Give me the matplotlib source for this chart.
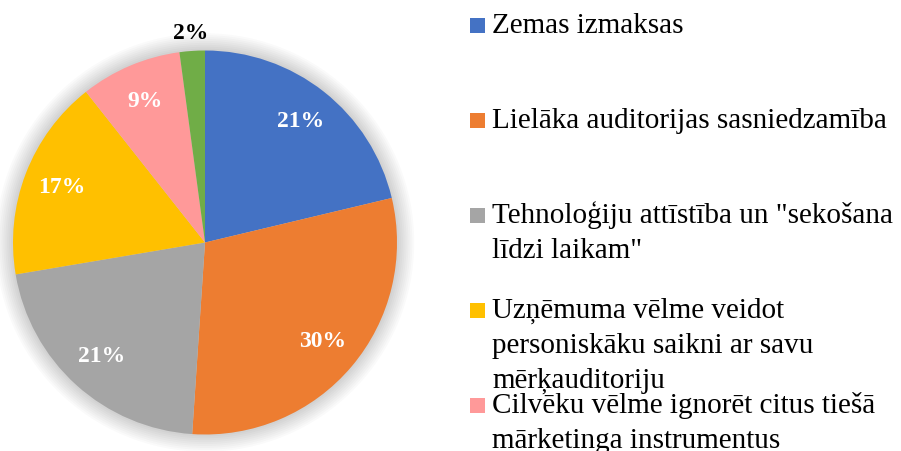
import numpy as np
import matplotlib
matplotlib.use('Agg')
import matplotlib.pyplot as plt
from matplotlib.patches import Circle, Rectangle

plt.rcParams['font.family'] = ['Liberation Serif', 'DejaVu Serif']

labels = [
    'Zemas izmaksas',
    'Lielāka auditorijas sasniedzamība',
    'Tehnoloģiju attīstība un "sekošana\nlīdzi laikam"',
    'Uzņēmuma vēlme veidot\npersoniskāku saikni ar savu\nmērķauditoriju',
    'Cilvēku vēlme ignorēt citus tiešā\nmārketinga instrumentus',
    'Cits',
]
counts = [10, 14, 10, 8, 4, 1]
colors = ['#4472C4', '#ED7D31', '#A5A5A5', '#FFC000', '#FF9999', '#70AD47']

W, H = 901, 451
fig = plt.figure(figsize=(W / 100, H / 100), dpi=100)

# pie axes, placed in pixels
cx, cy, R = 205, 242.5, 192
ax = fig.add_axes([(cx - R) / W, (H - cy - R) / H, 2 * R / W, 2 * R / H])
ax.set_aspect('equal')
ax.axis('off')

# soft glow / shadow around the pie
for r in np.linspace(1.09, 1.0, 10):
    ax.add_patch(Circle((0, 0), r, color='#000000', alpha=0.018, lw=0,
                        zorder=0, clip_on=False))

wedges, _ = ax.pie(counts, colors=colors, startangle=90, counterclock=False,
                   radius=1, wedgeprops=dict(linewidth=0), frame=False)
ax.set_xlim(-1, 1)
ax.set_ylim(-1, 1)

total = sum(counts)
for w, c in zip(wedges, counts):
    mid = np.deg2rad((w.theta1 + w.theta2) / 2)
    pct = f'{100 * c / total:.0f}%'
    if c / total < 0.05:
        r, col = 1.09, 'black'
    else:
        r, col = 0.8, 'white'
    ax.text(r * np.cos(mid), r * np.sin(mid), pct, ha='center', va='center',
            fontsize=17, fontweight='bold', color=col)

# legend, drawn by hand with fixed spacing per entry
y0, step, line_h = 25, 95, 35
for i, (lab, col) in enumerate(zip(labels, colors)):
    yc = y0 + i * step
    fig.patches.append(Rectangle((470 / W, 1 - (yc + 7.5) / H), 15 / W, 15 / H,
                                 transform=fig.transFigure, color=col, lw=0))
    for k, line in enumerate(lab.split('\n')):
        yb = yc + 8 + k * line_h
        fig.text(492 / W, 1 - yb / H, line, ha='left', va='baseline',
                 fontsize=21, color='black')

fig.savefig('out.png', dpi=100)
